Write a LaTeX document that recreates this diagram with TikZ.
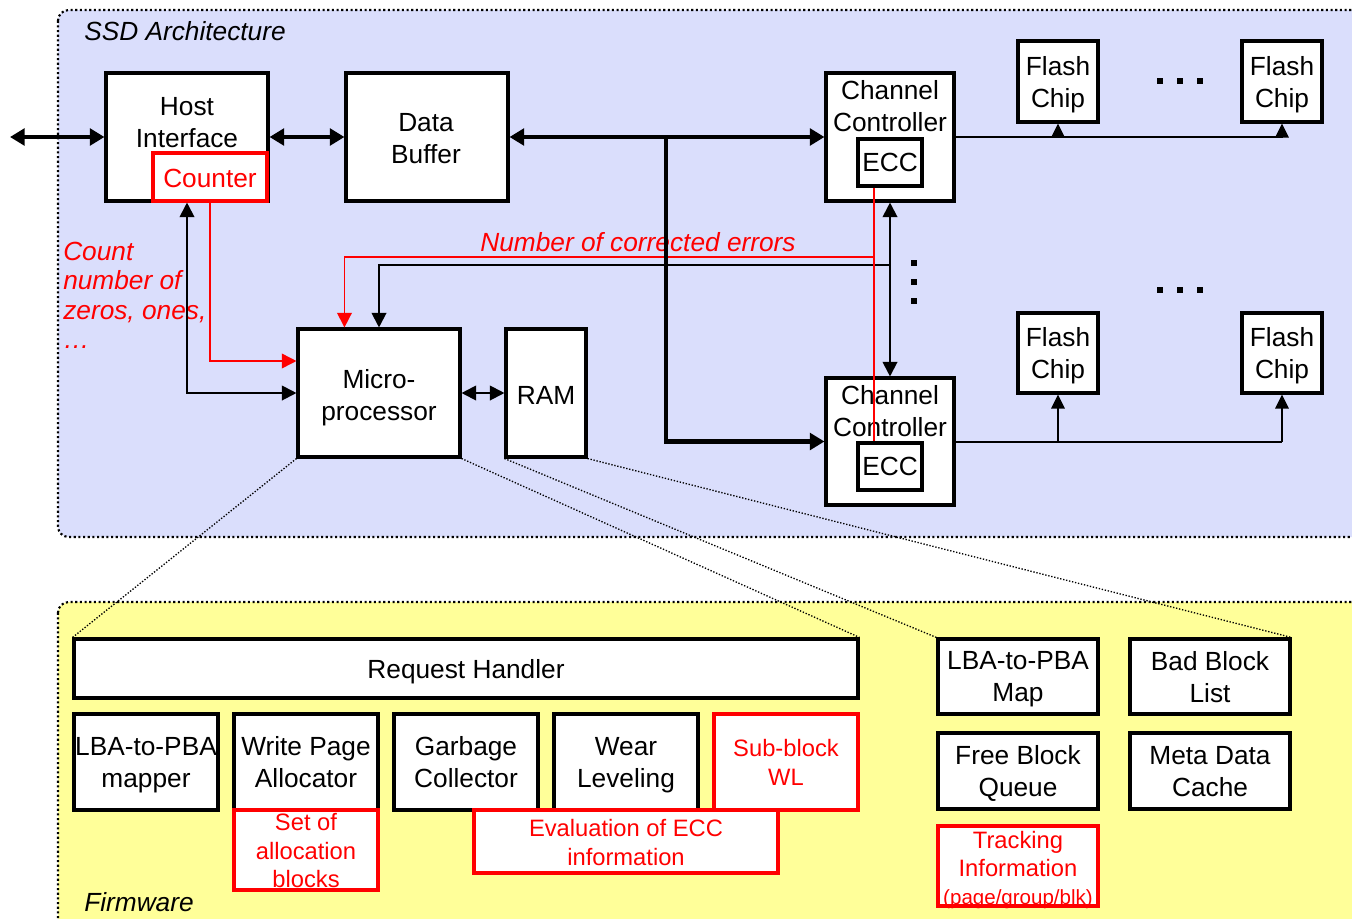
\documentclass[tikz,border=0pt]{standalone}
\usepackage{fontspec}
\setmainfont{Liberation Sans}
\usetikzlibrary{arrows.meta,fit,calc}
\definecolor{ssdbg}{RGB}{218,222,252}
\definecolor{fwbg}{RGB}{255,255,153}
\definecolor{rd}{RGB}{255,0,0}
\newcommand\fmain{\fontsize{19.7}{24}\selectfont}
\newcommand\fred{\fontsize{17.8}{21.5}\selectfont}
\newcommand\fsmall{\fontsize{15.4}{18}\selectfont}
\newcommand\mystrut{\vrule width0pt height0.905em depth0.212em\relax}
\tikzset{
  bx/.style={draw=black, line width=2.3pt, fill=white, inner sep=0pt},
  rbx/.style={draw=rd, line width=2.3pt, fill=white, inner sep=0pt},
  tx/.style={inner sep=0pt, align=center, font=\fmain, text=black,
    execute at begin node=\mystrut, execute at end node=\mystrut},
  rtx/.style={inner sep=0pt, align=center, font=\fred, text=rd,
    execute at begin node=\mystrut, execute at end node=\mystrut},
  ml/.style={yshift=-2.4pt},
  itx/.style={inner sep=0pt, font=\fmain\itshape},
  area/.style={draw=black, line width=1.6pt, dash pattern=on 1.6pt off 1.9pt, rounded corners=8pt},
  zoomline/.style={draw=black, line width=1pt, dash pattern=on 1pt off 1.3pt},
  bus/.style={line width=3.2pt, {Triangle[length=11pt,width=12.5pt]}-{Triangle[length=11pt,width=12.5pt]}},
  busone/.style={line width=3.2pt, -{Triangle[length=11pt,width=12.5pt]}},
  ln/.style={line width=1.5pt},
  tip/.style={-{Triangle[length=11pt,width=11pt]}},
  tips/.style={{Triangle[length=11pt,width=11pt]}-{Triangle[length=11pt,width=11pt]}},
  ftip/.style={-{Triangle[length=10.5pt,width=10pt]}},
  rln/.style={draw=rd, line width=1.2pt},
  sq/.style={fill=black, minimum size=4.6pt, inner sep=0pt},
}
\begin{document}
\begin{tikzpicture}[x=0.75pt,y=-0.75pt]
\useasboundingbox (0,0) rectangle (1352,918);
% backgrounds
\path[area, fill=ssdbg] (58,10) rectangle (1380,537);
\path[area, fill=fwbg] (58,602) rectangle (1380,940);
\node[itx, anchor=west] (lssd) at (84,31) {SSD Architecture};
\node[itx, anchor=west] (lfw) at (84,902) {Firmware};

% SSD boxes
\node[bx, fit={(106,73) (268,201)}] (hi) {};
\node[tx, ml] (hit) at (187,122) {Host\\Interface};
\node[rbx, fit={(153,153) (267,201)}] (ctr) {};
\node[tx, text=rd] (ctrt) at (210,178) {Counter};
\node[bx, fit={(346,73) (508,201)}] (db) {};
\node[tx, ml] (dbt) at (426,138) {Data\\Buffer};
\node[bx, fit={(298,329) (460,457)}] (mp) {};
\node[tx, ml] (mpt) at (379,395) {Micro-\\processor};
\node[bx, fit={(506,329) (586,457)}] (ram) {};
\node[tx] (ramt) at (546,395) {RAM};

\node[bx, fit={(826,73) (954,201)}] (cc1) {};
\node[tx, ml] (cc1t) at (890,106) {Channel\\Controller};
\node[bx, fit={(858,139) (922,186)}] (ecc1) {};
\node[tx] (ecc1t) at (ecc1.center) {ECC};
\node[bx, fit={(826,378) (954,505)}] (cc2) {};
\node[tx, ml] (cc2t) at (890,411) {Channel\\Controller};
\node[bx, fit={(858,443) (922,490)}] (ecc2) {};
\node[tx] (ecc2t) at (ecc2.center) {ECC};

\node[bx, fit={(1018,41) (1098,122)}] (fc1) {};
\node[tx, ml] (fc1t) at (fc1.center) {Flash\\Chip};
\node[bx, fit={(1242,41) (1322,122)}] (fc2) {};
\node[tx, ml] (fc2t) at (fc2.center) {Flash\\Chip};
\node[bx, fit={(1018,313) (1098,393)}] (fc3) {};
\node[tx, ml] (fc3t) at (fc3.center) {Flash\\Chip};
\node[bx, fit={(1242,313) (1322,393)}] (fc4) {};
\node[tx, ml] (fc4t) at (fc4.center) {Flash\\Chip};

% dots
\node[sq] (v1) at (914,263) {};
\node[sq] (v2) at (914,282) {};
\node[sq] (v3) at (914,301) {};
\node[sq] (h1) at (1160,81) {};
\node[sq] (h2) at (1180,81) {};
\node[sq] (h3) at (1200,81) {};
\node[sq] (h4) at (1160,290) {};
\node[sq] (h5) at (1180,290) {};
\node[sq] (h6) at (1200,290) {};

% red labels
\node[itx, text=rd] (nce) at (638,242) {Number of corrected errors};
\node[inner sep=0pt, font=\fontsize{19.7}{22}\selectfont\itshape, text=rd, align=left, anchor=north west] (cnt) at (63,242) {Count\\number of\\zeros, ones,\\…};

% firmware boxes
\node[bx, fit={(74,639) (858,698)}] (rh) {};
\node[tx, yshift=-0.8pt] (rht) at (rh.center) {Request Handler};
\node[bx, fit={(74,714) (218,810)}] (m1) {};
\node[tx, ml] (m1t) at (m1.center) {LBA-to-PBA\\mapper};
\node[bx, fit={(234,714) (378,810)}] (m2) {};
\node[tx, ml] (m2t) at (m2.center) {Write Page\\Allocator};
\node[bx, fit={(394,714) (538,810)}] (m3) {};
\node[tx, ml] (m3t) at (m3.center) {Garbage\\Collector};
\node[bx, fit={(554,714) (698,810)}] (m4) {};
\node[tx, ml] (m4t) at (m4.center) {Wear\\Leveling};
\node[rbx, fit={(714,714) (858,810)}] (m5) {};
\node[rtx, ml] (m5t) at (m5.center) {Sub-block\\WL};
\node[rbx, fit={(234,810) (378,890)}] (r1) {};
\node[rtx, ml] (r1t) at (r1.center) {Set of\\allocation\\blocks};
\node[rbx, fit={(474,810) (778,873)}] (r2) {};
\node[rtx, ml] (r2t) at (r2.center) {Evaluation of ECC\\information};

\node[bx, fit={(938,639) (1098,714)}] (d1) {};
\node[tx, ml] (d1t) at (d1.center) {LBA-to-PBA\\Map};
\node[bx, fit={(1130,639) (1290,714)}] (d2) {};
\node[tx, ml] (d2t) at (d2.center) {Bad Block\\List};
\node[bx, fit={(938,733) (1098,809)}] (d3) {};
\node[tx, ml] (d3t) at (d3.center) {Free Block\\Queue};
\node[bx, fit={(1130,733) (1290,809)}] (d4) {};
\node[tx, ml] (d4t) at (d4.center) {Meta Data\\Cache};
\node[rbx, fit={(938,826) (1098,906)}] (d5) {};
\node[rtx] (d5t) at (1018,870) {Tracking\\Information\\[-1pt]{\fsmall (page/group/blk)}};

% zoom lines
\draw[zoomline] (mp.south west) -- (rh.north west);
\draw[zoomline] (mp.south east) -- (rh.north east);
\draw[zoomline] (ram.south west) -- (d1.north west);
\draw[zoomline] (ram.south east) -- (d2.north east);

% connectors
\coordinate (ext) at (10,137);
\coordinate (bk) at (890,265);
\coordinate (rk) at (874,257);
\coordinate (bj) at (666,137);
\draw[ln, tips] (hi.south) |- (mp.west);
\draw[rln, tip] (ctr.south) |- ($(mp.west)+(0,-32)$);
\draw[ln, tips] (mp.east) -- (ram.west);
\draw[ln, tip] (bk) -| (mp.north);
\draw[ln, tips] (cc1.south) -- (cc2.north);
\draw[rln] ([xshift=-12pt]ecc1.south) -- ([xshift=-12pt]ecc2.north);
\draw[rln, tip] (rk) -| ([xshift=36pt]mp.north west);

\draw[ln] (cc1.east) -- (cc1.east -| fc2.south);
\draw[ln, ftip] (cc1.east -| fc1.south) -- (fc1.south);
\draw[ln, ftip] (cc1.east -| fc2.south) -- (fc2.south);
\draw[ln] (cc2.east) -- (cc2.east -| fc4.south);
\draw[ln, ftip] (cc2.east -| fc3.south) -- (fc3.south);
\draw[ln, ftip] (cc2.east -| fc4.south) -- (fc4.south);

\draw[bus] (ext) -- (hi.west);
\draw[bus] (hi.east) -- (db.west);
\draw[bus] (db.east) -- (cc1.west);
\draw[busone] (bj) |- (cc2.west);
\end{tikzpicture}
\end{document}
